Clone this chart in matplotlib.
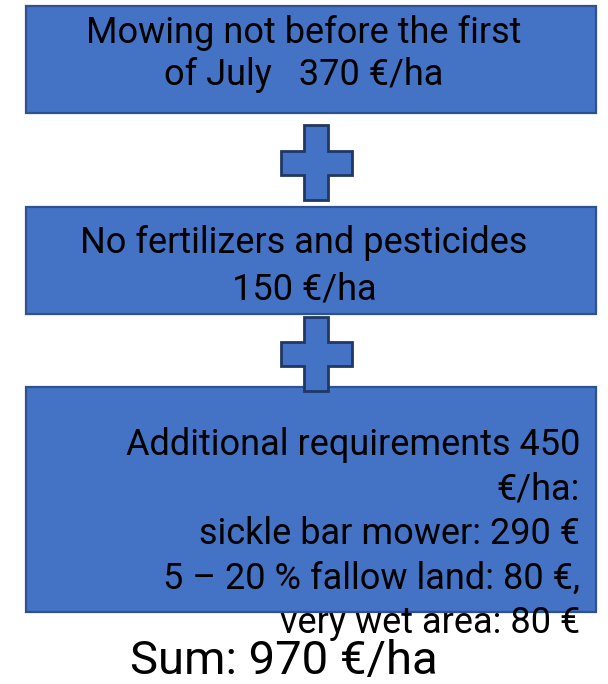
import matplotlib
matplotlib.use("Agg")
import matplotlib.pyplot as plt
from matplotlib.patches import Rectangle, Polygon

plt.rcParams["font.family"] = ["Roboto", "DejaVu Sans"]

# ── content ──
box_lines = [
    ["Mowing not before the first", "of July   370 \u20ac/ha"],
    ["No fertilizers and pesticides", "150 \u20ac/ha"],
    ["Additional requirements 450", "\u20ac/ha:", "sickle bar mower: 290 \u20ac",
     "5 \u2013 20 % fallow land: 80 \u20ac,", "very wet area: 80 \u20ac"],
]
sum_label = "Sum: 970 \u20ac/ha"

# ── layout (pixel space) ──
boxes = [(26, 6, 570, 107), (26, 207, 570, 107), (26, 387, 570, 225)]
crosses = [(316, 125, 200), (316, 317, 391)]
fill = "#4472C4"
edge = "#2F528F"

fig = plt.figure(figsize=(6.08, 6.84), dpi=100)
ax = fig.add_axes([0, 0, 1, 1])
ax.set_xlim(0, 608)
ax.set_ylim(684, 0)
ax.axis("off")

for x, y, w, h in boxes:
    ax.add_patch(Rectangle((x, y), w, h, facecolor=fill, edgecolor=edge,
                           lw=1.6, zorder=1))


def plus(cx, top, bottom, arm=35.5, half=12):
    mid = (top + bottom) / 2
    pts = [(cx - half, top), (cx + half, top), (cx + half, mid - half),
           (cx + arm, mid - half), (cx + arm, mid + half), (cx + half, mid + half),
           (cx + half, bottom), (cx - half, bottom), (cx - half, mid + half),
           (cx - arm, mid + half), (cx - arm, mid - half), (cx - half, mid - half)]
    return Polygon(pts, closed=True, facecolor=fill, edgecolor="#1F3864",
                   lw=2.0, zorder=3)


for cx, t, b in crosses:
    ax.add_patch(plus(cx, t, b))

fs = 26
# box 1 & 2: centred two-line text
for lines, ys in zip(box_lines[:2], [(33, 75), (243, 289)]):
    for s, y in zip(lines, ys):
        ax.text(304, y, s, ha="center", va="center", fontsize=fs,
                color="black", zorder=4)

# box 3: right-aligned, last line spills below the box
for i, s in enumerate(box_lines[2]):
    ax.text(580, 445 + i * 44.5, s, ha="right", va="center", fontsize=fs,
            color="black", zorder=4)

ax.text(284, 661, sum_label, ha="center", va="center", fontsize=34,
        color="black", zorder=4)

fig.savefig("out.png", dpi=100)
